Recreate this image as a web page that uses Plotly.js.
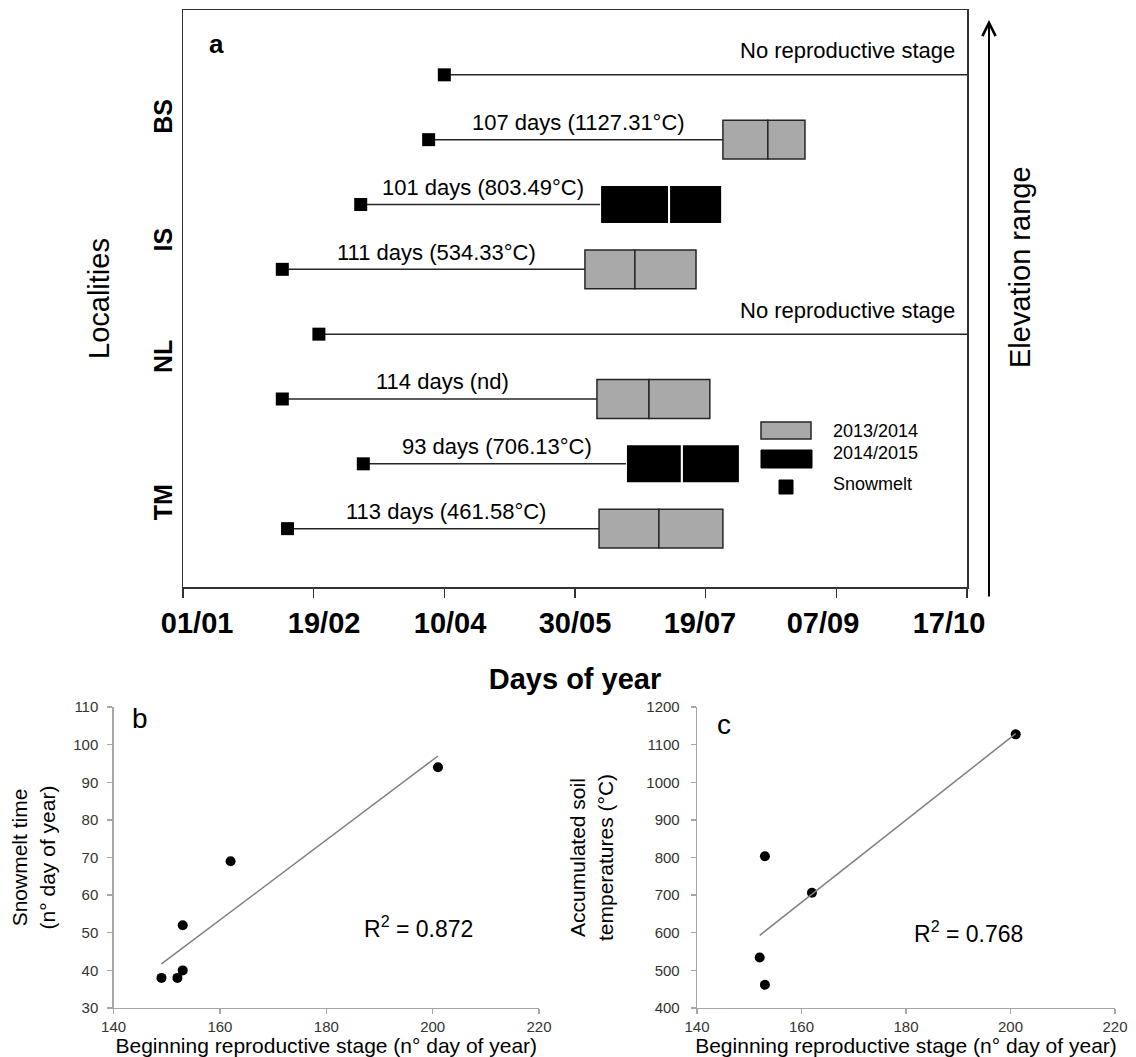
<!DOCTYPE html>
<html><head><meta charset="utf-8">
<script src="https://cdn.plot.ly/plotly-3.0.1.min.js"></script>
<style>html,body{margin:0;padding:0;background:#fff}#chart{width:1136px;height:1057px}</style>
</head><body><div id="chart"></div>
<script>
// ---------- Panel a : phenology per locality / season ----------
const rowSlot      = [8, 7, 6, 5, 4, 3, 2, 1];            // top -> bottom
const rowSeason    = ['2014/2015','2013/2014','2014/2015','2013/2014','2014/2015','2013/2014','2014/2015','2013/2014'];
const snowmeltDay  = [100, 94, 68, 38, 52, 38, 69, 40];
const reproStart   = [null, 206.6, 159.6, 153.8, null, 158.4, 169.5, 159.2];
const reproMedian  = [null, 223.8, 186.0, 172.9, null, 178.3, 190.9, 182.1];
const reproEnd     = [null, 238.0, 206.3, 196.3, null, 201.6, 213.1, 206.6];
const rowLabel     = ['No reproductive stage','107 days (1127.31°C)','101 days (803.49°C)','111 days (534.33°C)',
                      'No reproductive stage','114 days (nd)','93 days (706.13°C)','113 days (461.58°C)'];
const observationEnd = 300;
const localityNames  = ['BS','IS','NL','TM'];
const localityTickPos = [7.3, 5.4, 3.6, 1.35];
const dayTickVals  = [0, 50, 100, 150, 200, 250, 300];
const dayTickText  = ['01/01','19/02','10/04','30/05','19/07','07/09','17/10'];
const dayLabelPos  = [5.4, 54, 102.2, 150, 197.8, 244.9, 293.1];   // where the original prints the labels
const seasonNames = ['2013/2014','2014/2015'];
const seasonFill  = {'2013/2014':'#a9a9a9','2014/2015':'#000000'};
const seasonEdge  = {'2013/2014':'#262626','2014/2015':'#ffffff'};

// ---------- Panel b ----------
const bBegin    = [149, 152, 153, 153, 162, 201];
const bSnowmelt = [38, 38, 40, 52, 69, 94];
const bR2Text   = 'R<sup>2</sup> = 0.872';
// ---------- Panel c ----------
const cBegin    = [152, 153, 153, 162, 201];
const cSoilTemp = [534.33, 461.58, 803.49, 706.13, 1127.31];
const cR2Text   = 'R<sup>2</sup> = 0.768';

const W = 1136, H = 1057;
const px = v => v / W;
const py = v => 1 - v / H;
const FONT = 'Liberation Sans, Arial, sans-serif';

function fit(xs, ys) {
  const n = xs.length;
  const mx = xs.reduce((a,b)=>a+b,0)/n, my = ys.reduce((a,b)=>a+b,0)/n;
  let sxy = 0, sxx = 0;
  for (let i=0;i<n;i++){ sxy += (xs[i]-mx)*(ys[i]-my); sxx += (xs[i]-mx)**2; }
  const s = sxy/sxx, b = my - s*mx;
  const lo = Math.min(...xs), hi = Math.max(...xs);
  return {x:[lo,hi], y:[s*lo+b, s*hi+b]};
}

const traces = [];

// connector lines snowmelt -> reproduction (or end of season)
const lx = [], ly = [];
rowSlot.forEach((s,i) => {
  lx.push(snowmeltDay[i], reproStart[i] === null ? observationEnd : reproStart[i], null);
  ly.push(s, s, null);
});
traces.push({type:'scatter', mode:'lines', x:lx, y:ly, xaxis:'x', yaxis:'y',
  line:{color:'#262626', width:1.5}, hoverinfo:'skip', cliponaxis:false});

// reproduction boxes (two halves split at median)
seasonNames.forEach(season => {
  const idx = rowSlot.map((_,i)=>i).filter(i => rowSeason[i]===season && reproStart[i]!==null);
  const common = {type:'bar', orientation:'h', xaxis:'x', yaxis:'y', width:0.6,
    marker:{color:seasonFill[season], line:{color:seasonEdge[season], width: season==='2014/2015'?2:1.5}},
    name:season, hoverinfo:'skip'};
  traces.push(Object.assign({}, common, {
    y: idx.map(i=>rowSlot[i]), base: idx.map(i=>reproStart[i]),
    x: idx.map(i=>reproMedian[i]-reproStart[i])}));
  traces.push(Object.assign({}, common, {
    y: idx.map(i=>rowSlot[i]), base: idx.map(i=>reproMedian[i]),
    x: idx.map(i=>reproEnd[i]-reproMedian[i])}));
});

// snowmelt markers
traces.push({type:'scatter', mode:'markers', x:snowmeltDay, y:rowSlot, xaxis:'x', yaxis:'y',
  marker:{symbol:'square', size:13, color:'#000'}, name:'Snowmelt', cliponaxis:false});
// carrier for the date-label axis
traces.push({type:'scatter', mode:'markers', x:[], y:[], xaxis:'x4', yaxis:'y', showlegend:false});

// panel b
traces.push({type:'scatter', mode:'markers', x:bBegin, y:bSnowmelt, xaxis:'x2', yaxis:'y2',
  marker:{symbol:'circle', size:10, color:'#000'}});
const fb = fit(bBegin, bSnowmelt);
traces.push({type:'scatter', mode:'lines', x:fb.x, y:fb.y, xaxis:'x2', yaxis:'y2',
  line:{color:'#7f7f7f', width:1.5}});
// panel c
traces.push({type:'scatter', mode:'markers', x:cBegin, y:cSoilTemp, xaxis:'x3', yaxis:'y3',
  marker:{symbol:'circle', size:10, color:'#000'}});
const fc = fit(cBegin, cSoilTemp);
traces.push({type:'scatter', mode:'lines', x:fc.x, y:fc.y, xaxis:'x3', yaxis:'y3',
  line:{color:'#7f7f7f', width:1.5}});

// annotations
const ann = [];
rowSlot.forEach((s,i) => {
  if (reproStart[i] === null) {
    ann.push({xref:'x', yref:'y', x:296, y:s, text:rowLabel[i], showarrow:false,
      xanchor:'right', yanchor:'middle', yshift:24, font:{size:22, family:FONT, color:'#000'}});
  } else {
    ann.push({xref:'x', yref:'y', x:(snowmeltDay[i]+reproStart[i])/2 + 1, y:s, text:rowLabel[i], showarrow:false,
      xanchor:'center', yanchor:'middle', yshift:17, font:{size:22, family:FONT, color:'#000'}});
  }
});
function note(x, y, text, size, extra) {
  ann.push(Object.assign({xref:'paper', yref:'paper', x:px(x), y:py(y), text:text, showarrow:false,
    xanchor:'center', yanchor:'middle', font:{size:size, family:FONT, color:'#000'}}, extra || {}));
}
note(216, 44, '<b>a</b>', 26);
note(1020, 267, 'Elevation range', 29, {textangle:-90});
ann.push({xref:'paper', yref:'paper', x:px(989), y:py(20), ax:0, ay:585, axref:'pixel', ayref:'pixel',
  text:' ', showarrow:true, arrowhead:5, arrowsize:1.3, arrowwidth:2, arrowcolor:'#000'});
// legend (manual, drawn as in original)
const legendText = ['2013/2014','2014/2015','Snowmelt'];
const legendY = [431, 453, 484];
legendText.forEach((t,i)=>note(831, legendY[i], t, 18, {xanchor:'left'}));
note(140, 718, 'b', 28);
note(724, 724, 'c', 28);
note(418, 927, bR2Text, 23);
note(968, 932, cR2Text, 23);

const shapes = [
  {type:'rect', xref:'paper', yref:'paper', x0:px(761), x1:px(811), y0:py(439), y1:py(422),
    fillcolor:seasonFill['2013/2014'], line:{color:'#262626', width:1.5}},
  {type:'rect', xref:'paper', yref:'paper', x0:px(761), x1:px(812), y0:py(468), y1:py(450),
    fillcolor:'#000', line:{color:'#000', width:1}},
  {type:'rect', xref:'paper', yref:'paper', x0:px(779), x1:px(793), y0:py(494), y1:py(480),
    fillcolor:'#000', line:{color:'#000', width:1}}
];

const smallAxis = {showline:true, linecolor:'#a6a6a6', linewidth:1.3, ticks:'outside', ticklen:5,
  tickcolor:'#a6a6a6', tickwidth:1.3, showgrid:false, zeroline:false,
  tickfont:{size:15, family:FONT, color:'#333333'}};

const layout = {
  width:W, height:H, margin:{l:0, r:0, t:0, b:0},
  paper_bgcolor:'#fff', plot_bgcolor:'#fff', showlegend:false, barmode:'overlay',
  font:{family:FONT, color:'#000'},
  xaxis:{domain:[px(183), px(967)], range:[0, 300], anchor:'y', tickvals:dayTickVals,
    showticklabels:false, ticks:'outside', ticklen:9, tickwidth:1.5, tickcolor:'#333',
    showline:true, linecolor:'#333', linewidth:1.5, mirror:true, showgrid:false, zeroline:false},
  xaxis4:{overlaying:'x', anchor:'y', side:'bottom', range:[0, 300], tickvals:dayLabelPos,
    ticktext:dayTickText.map(t=>'<b>'+t+'</b>'), ticks:'outside', ticklen:10, tickcolor:'rgba(0,0,0,0)',
    showline:false, showgrid:false, zeroline:false,
    tickfont:{size:29, family:FONT, color:'#000'},
    title:{text:'<b>Days of year</b>', font:{size:29, family:FONT, color:'#000'}, standoff:30}},
  yaxis:{domain:[py(587), py(10)], range:[0.1, 9], anchor:'x', tickvals:localityTickPos,
    ticktext:localityNames.map(t=>'<b>'+t+'</b>'), tickangle:-90, ticks:'', showline:true,
    linecolor:'#333', linewidth:1.5, mirror:true, showgrid:false, zeroline:false,
    tickfont:{size:25, family:FONT, color:'#000'},
    title:{text:'Localities', font:{size:29, family:FONT, color:'#000'}, standoff:30}},
  xaxis2:Object.assign({}, smallAxis, {domain:[px(113.6), px(539)], range:[140, 220], dtick:20, anchor:'y2',
    title:{text:'Beginning reproductive stage (n° day of year)', font:{size:21, family:FONT, color:'#000'}, standoff:1}}),
  yaxis2:Object.assign({}, smallAxis, {domain:[py(1008), py(707)], range:[30, 110], dtick:10, anchor:'x2',
    ticklabelstandoff:6,
    title:{text:'Snowmelt time<br>(n° day of year)', font:{size:21, family:FONT, color:'#000'}, standoff:12}}),
  xaxis3:Object.assign({}, smallAxis, {domain:[px(697), px(1115)], range:[140, 220], dtick:20, anchor:'y3',
    title:{text:'Beginning reproductive stage (n° day of year)', font:{size:21, family:FONT, color:'#000'}, standoff:1}}),
  yaxis3:Object.assign({}, smallAxis, {domain:[py(1008), py(707)], range:[400, 1200], dtick:100, anchor:'x3',
    ticklabelstandoff:8,
    title:{text:'Accumulated soil<br>temperatures (°C)', font:{size:21, family:FONT, color:'#000'}, standoff:27}}),
  annotations:ann, shapes:shapes
};

Plotly.newPlot('chart', traces, layout, {staticPlot:true, displayModeBar:false});
</script></body></html>
